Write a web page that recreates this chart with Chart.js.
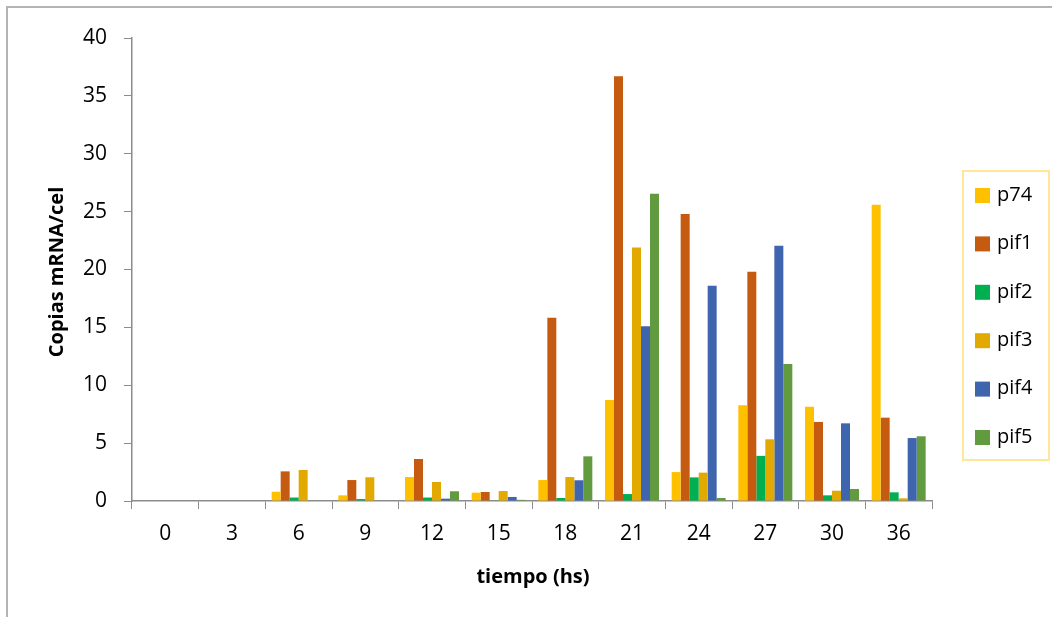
<!DOCTYPE html>
<html>
<head>
<meta charset="utf-8">
<script src="https://cdn.jsdelivr.net/npm/chart.js@4/dist/chart.umd.min.js"></script>
<style>
  html, body { margin: 0; padding: 0; background: #fff; overflow: hidden; }
  #wrap { position: relative; width: 1052px; height: 617px; }
  #frame { position: absolute; left: 6px; top: 6px; width: 1100px; height: 700px; border: 2px solid #B4B4B4; box-sizing: border-box; pointer-events: none; }
  canvas { position: absolute; left: 0; top: 0; }
</style>
</head>
<body>
<div id="wrap">
  <div id="frame"></div>
  <canvas id="c" width="1052" height="617"></canvas>
</div>
<script>
const categories = ['0', '3', '6', '9', '12', '15', '18', '21', '24', '27', '30', '36'];
const seriesNames = ['p74', 'pif1', 'pif2', 'pif3', 'pif4', 'pif5'];
const p74  = [0, 0, 0.80, 0.49, 2.07, 0.72, 1.81, 8.73, 2.50, 8.27, 8.15, 25.6];
const pif1 = [0, 0, 2.56, 1.81, 3.63, 0.78, 15.84, 36.7, 24.8, 19.8, 6.83, 7.20];
const pif2 = [0, 0, 0.30, 0.17, 0.30, 0.05, 0.26, 0.60, 2.04, 3.90, 0.49, 0.75];
const pif3 = [0, 0, 2.68, 2.05, 1.64, 0.86, 2.07, 21.9, 2.45, 5.33, 0.89, 0.23];
const pif4 = [0, 0, 0, 0, 0.20, 0.35, 1.79, 15.09, 18.6, 22.05, 6.71, 5.44];
const pif5 = [0, 0, 0, 0, 0.84, 0.10, 3.86, 26.55, 0.26, 11.84, 1.04, 5.59];
const yTicks = [0, 5, 10, 15, 20, 25, 30, 35, 40];
const colors = ['#FFC000', '#C55A11', '#00B050', '#E2AA00', '#3F65AE', '#629B3F'];
const yTitle = 'Copias mRNA/cel';
const xTitle = 'tiempo (hs)';

const seriesValues = [p74, pif1, pif2, pif3, pif4, pif5];
const FONT = "'Open Sans', 'Noto Sans', sans-serif";

const extras = {
  id: 'extras',
  afterDraw(chart) {
    const ctx = chart.ctx;
    ctx.save();
    // axis titles
    ctx.fillStyle = '#000';
    ctx.font = 'bold 20px ' + FONT;
    ctx.textAlign = 'center';
    ctx.textBaseline = 'middle';
    ctx.fillText(xTitle, 533, 577);
    ctx.translate(57, 272);
    ctx.rotate(-Math.PI / 2);
    ctx.fillText(yTitle, 0, 0);
    ctx.restore();

    // legend
    ctx.save();
    ctx.strokeStyle = '#FFE699';
    ctx.lineWidth = 2;
    ctx.strokeRect(963, 171, 86, 289);
    ctx.font = '20px ' + FONT;
    ctx.textAlign = 'left';
    ctx.textBaseline = 'middle';
    chart.data.datasets.forEach((ds, i) => {
      const cy = 195 + i * 48.4;
      ctx.fillStyle = ds.backgroundColor;
      ctx.fillRect(975, cy - 7, 15, 15);
      ctx.fillStyle = '#000';
      ctx.fillText(ds.label, 997, cy);
    });
    ctx.restore();
  }
};

new Chart(document.getElementById('c'), {
  type: 'bar',
  data: {
    labels: categories,
    datasets: seriesNames.map((name, i) => ({
      label: name,
      data: seriesValues[i],
      backgroundColor: colors[i],
      borderWidth: 0,
      barPercentage: 1,
      categoryPercentage: 0.81
    }))
  },
  options: {
    responsive: false,
    animation: false,
    devicePixelRatio: 1,
    layout: { padding: { left: 0, top: 38, right: 120, bottom: 0 } },
    plugins: { legend: { display: false }, tooltip: { enabled: false } },
    scales: {
      x: {
        afterFit(s) { s.height = 116; },
        grid: { drawOnChartArea: false, drawTicks: true, tickLength: 8, color: '#8C8C8C', offset: true },
        border: { display: true, color: '#8C8C8C', width: 1.5 },
        ticks: { color: '#000', font: { family: FONT, size: 21 }, padding: 12, maxRotation: 0 }
      },
      y: {
        min: 0, max: 40,
        afterFit(s) { s.width = 132; },
        afterBuildTicks(s) { s.ticks = yTicks.map(v => ({ value: v })); },
        grid: { drawOnChartArea: false, drawTicks: true, tickLength: 8, color: '#8C8C8C' },
        border: { display: true, color: '#8C8C8C', width: 1.5 },
        ticks: { color: '#000', font: { family: FONT, size: 21 }, padding: 17 }
      }
    }
  },
  plugins: [extras]
});
</script>
</body>
</html>
